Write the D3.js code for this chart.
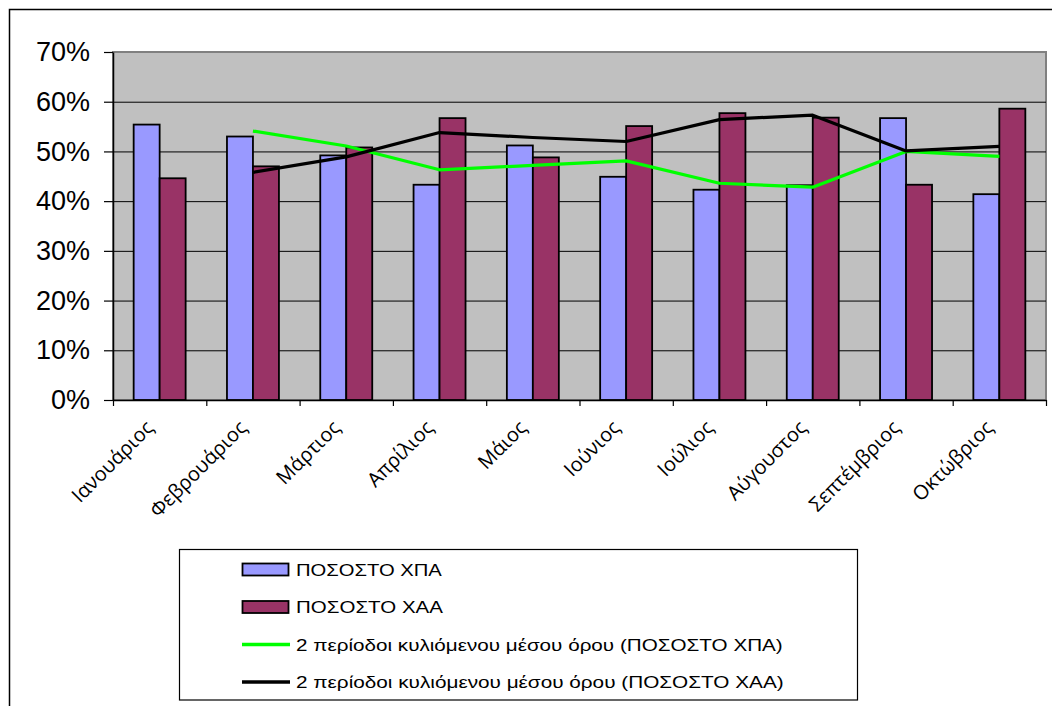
<!DOCTYPE html>
<html>
<head>
<meta charset="utf-8">
<script src="https://cdn.jsdelivr.net/npm/d3@7"></script>
<style>
  html, body { margin: 0; padding: 0; background: #fff; overflow: hidden; }
  svg { display: block; }
</style>
</head>
<body>
<svg id="chart" width="1052" height="706"></svg>
<script>
// Months on the category axis
const months = ["Ιανουάριος", "Φεβρουάριος", "Μάρτιος", "Απρίλιος", "Μάιος",
                "Ιούνιος", "Ιούλιος", "Αύγουστος", "Σεπτέμβριος", "Οκτώβριος"];

// Monthly shares (%)
const shareXPA = [55.4, 53.0, 49.2, 43.3, 51.2, 44.9, 42.3, 43.2, 56.7, 41.4];
const shareXAA = [44.6, 47.0, 50.8, 56.7, 48.8, 55.1, 57.7, 56.8, 43.3, 58.6];

// 2-period moving averages (first month has no value)
const maXPA = [null, 54.1, 51.1, 46.3, 47.2, 48.1, 43.6, 42.8, 50.0, 49.0];
const maXAA = [null, 45.8, 48.9, 53.8, 52.8, 52.0, 56.4, 57.3, 50.1, 51.0];

// Value axis ticks
const yTicks = [0, 10, 20, 30, 40, 50, 60, 70];

// Legend entries
const legendLabels = [
  "ΠΟΣΟΣΤΟ ΧΠΑ",
  "ΠΟΣΟΣΤΟ ΧΑΑ",
  "2 περίοδοι κυλιόμενου μέσου όρου (ΠΟΣΟΣΤΟ ΧΠΑ)",
  "2 περίοδοι κυλιόμενου μέσου όρου (ΠΟΣΟΣΤΟ ΧΑΑ)"
];

const colXPA = "#9999FF";
const colXAA = "#993366";
const colMaXPA = "#00FF00";
const colMaXAA = "#000000";

const svg = d3.select("#chart");

// chart frame
svg.append("rect")
  .attr("x", 9.5).attr("y", 9.5)
  .attr("width", 1100).attr("height", 800)
  .attr("fill", "#fff").attr("stroke", "#000").attr("stroke-width", 1.5);

const plot = { left: 113, right: 1046, top: 52, bottom: 400 };
const pw = plot.right - plot.left;

const x0 = d3.scaleBand().domain(months).range([plot.left, plot.right]).padding(0);
const x1 = d3.scaleBand().domain(["xpa", "xaa"]).range([0, x0.bandwidth()])
  .paddingInner(0).paddingOuter(0.795);
const xb = d3.scaleLinear().domain([0, months.length]).range([plot.left, plot.right]);
const y = d3.scaleLinear().domain([0, 70]).range([plot.bottom, plot.top]);

// plot area
svg.append("rect")
  .attr("x", plot.left).attr("y", plot.top)
  .attr("width", pw).attr("height", plot.bottom - plot.top)
  .attr("fill", "#C0C0C0").attr("stroke", "#808080").attr("stroke-width", 2);

// gridlines
const grid = svg.append("g")
  .attr("transform", `translate(${plot.left},0)`)
  .call(d3.axisLeft(y).tickValues(yTicks.filter(v => v > 0 && v < 70))
    .tickSize(-pw).tickFormat(""));
grid.select(".domain").remove();
grid.selectAll("line").attr("stroke", "#000").attr("stroke-width", 1);

// bars
const groups = svg.append("g").selectAll("g")
  .data(months)
  .join("g")
  .attr("transform", d => `translate(${x0(d)},0)`);

groups.append("rect")
  .attr("x", x1("xpa")).attr("width", x1.bandwidth())
  .attr("y", (d, i) => y(shareXPA[i]))
  .attr("height", (d, i) => y(0) - y(shareXPA[i]))
  .attr("fill", colXPA).attr("stroke", "#000").attr("stroke-width", 1.8);

groups.append("rect")
  .attr("x", x1("xaa")).attr("width", x1.bandwidth())
  .attr("y", (d, i) => y(shareXAA[i]))
  .attr("height", (d, i) => y(0) - y(shareXAA[i]))
  .attr("fill", colXAA).attr("stroke", "#000").attr("stroke-width", 1.8);

// moving-average lines
const line = d3.line()
  .defined(d => d != null)
  .x((d, i) => x0(months[i]) + x0.bandwidth() / 2)
  .y(d => y(d));

svg.append("path").datum(maXPA)
  .attr("d", line).attr("fill", "none")
  .attr("stroke", colMaXPA).attr("stroke-width", 3.2).attr("stroke-linejoin", "round");
svg.append("path").datum(maXAA)
  .attr("d", line).attr("fill", "none")
  .attr("stroke", colMaXAA).attr("stroke-width", 3.2).attr("stroke-linejoin", "round");

// value axis
const yAxis = svg.append("g")
  .attr("transform", `translate(${plot.left},0)`)
  .call(d3.axisLeft(y).tickValues(yTicks).tickSize(9).tickSizeOuter(0)
    .tickPadding(14).tickFormat(d => d + "%"));
yAxis.select(".domain").attr("stroke", "#000").attr("stroke-width", 1.5);
yAxis.selectAll("line").attr("stroke", "#000").attr("stroke-width", 1.2);
yAxis.selectAll("text")
  .attr("font-family", "'Liberation Sans', Arial, sans-serif")
  .attr("font-size", 27).attr("fill", "#000");

// category axis: tick marks between months
const xTicks = svg.append("g")
  .attr("transform", `translate(0,${plot.bottom})`)
  .call(d3.axisBottom(xb).tickValues(d3.range(months.length + 1))
    .tickSize(6).tickSizeOuter(0).tickFormat(""));
xTicks.select(".domain").attr("stroke", "#000").attr("stroke-width", 1.5);
xTicks.selectAll("line").attr("stroke", "#000").attr("stroke-width", 1.2);

// category axis: rotated month labels
const xLabels = svg.append("g")
  .attr("transform", `translate(0,${plot.bottom})`)
  .call(d3.axisBottom(x0).tickSize(0).tickSizeOuter(0));
xLabels.select(".domain").remove();
xLabels.selectAll("text")
  .attr("x", 0).attr("y", 0).attr("dy", 0)
  .attr("text-anchor", "end")
  .attr("transform", "translate(-5,29) rotate(-45)")
  .attr("font-family", "'Open Sans', 'Noto Sans', sans-serif")
  .attr("font-size", 20).attr("fill", "#000");

// legend
const legend = svg.append("g");
legend.append("rect")
  .attr("x", 179.5).attr("y", 549.5).attr("width", 678).attr("height", 150.5)
  .attr("fill", "#fff").attr("stroke", "#000").attr("stroke-width", 1.2);

const rowY = [569.5, 607, 644.5, 682];
const textWidth = [146, 147, 487, 488];

legend.append("rect")
  .attr("x", 242.5).attr("y", rowY[0] - 6).attr("width", 46).attr("height", 12)
  .attr("fill", colXPA).attr("stroke", "#000").attr("stroke-width", 1.8);
legend.append("rect")
  .attr("x", 242.5).attr("y", rowY[1] - 6).attr("width", 46).attr("height", 12)
  .attr("fill", colXAA).attr("stroke", "#000").attr("stroke-width", 1.8);
legend.append("line")
  .attr("x1", 242).attr("x2", 290).attr("y1", rowY[2]).attr("y2", rowY[2])
  .attr("stroke", colMaXPA).attr("stroke-width", 3.5);
legend.append("line")
  .attr("x1", 242).attr("x2", 290).attr("y1", rowY[3]).attr("y2", rowY[3])
  .attr("stroke", colMaXAA).attr("stroke-width", 3.5);

// legend labels, stretched horizontally to their box widths
legend.selectAll("text.lbl")
  .data(legendLabels)
  .join("text")
  .attr("class", "lbl")
  .attr("x", 0).attr("y", 0)
  .attr("font-family", "'Liberation Sans', Arial, sans-serif")
  .attr("font-size", 16.5)
  .attr("fill", "#000")
  .text(d => d)
  .attr("transform", function (d, i) {
    const w = this.getComputedTextLength();
    const sx = textWidth[i] / w;
    return `translate(296,${rowY[i] + 6}) scale(${sx},1)`;
  });
</script>
</body>
</html>
